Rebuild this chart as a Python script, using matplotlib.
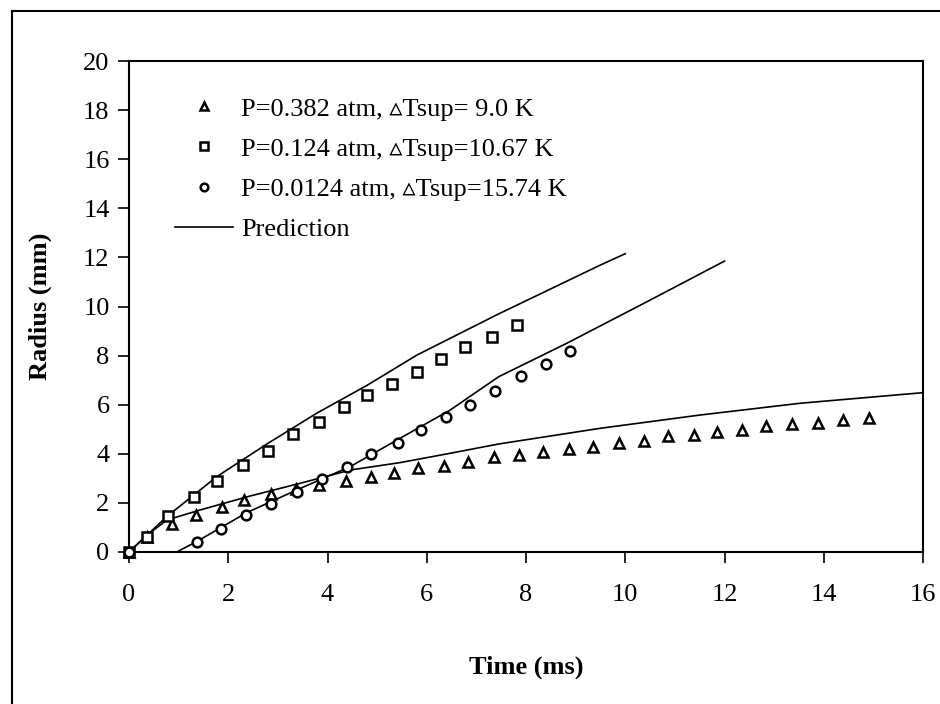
import matplotlib
matplotlib.use("Agg")
import matplotlib.pyplot as plt
from matplotlib.lines import Line2D

plt.rcParams["font.family"] = ["Liberation Serif", "DejaVu Serif"]

# measured bubble radius (mm) vs time (ms)
t_tri = [0, 0.36, 0.86, 1.36, 1.87, 2.32, 2.86, 3.37, 3.82, 4.37, 4.88, 5.33, 5.83,
         6.34, 6.83, 7.35, 7.85, 8.34, 8.86, 9.36, 9.87, 10.37, 10.87, 11.38, 11.85,
         12.35, 12.84, 13.37, 13.88, 14.39, 14.91]
r_tri = [0, 0.62, 1.14, 1.49, 1.85, 2.12, 2.35, 2.55, 2.73, 2.91, 3.07, 3.23, 3.42,
         3.50, 3.67, 3.86, 3.95, 4.09, 4.18, 4.29, 4.45, 4.53, 4.72, 4.78, 4.88,
         4.97, 5.13, 5.20, 5.27, 5.38, 5.45]

t_sq = [0, 0.36, 0.78, 1.30, 1.77, 2.29, 2.80, 3.30, 3.82, 4.33, 4.79, 5.30, 5.80,
        6.29, 6.77, 7.31, 7.82]
r_sq = [0, 0.62, 1.47, 2.23, 2.88, 3.53, 4.13, 4.81, 5.31, 5.89, 6.41, 6.83, 7.33,
        7.85, 8.35, 8.76, 9.25]

t_circ = [0, 1.38, 1.85, 2.35, 2.86, 3.38, 3.88, 4.39, 4.87, 5.42, 5.88, 6.39, 6.88,
          7.38, 7.90, 8.40, 8.89]
r_circ = [0, 0.39, 0.92, 1.51, 1.94, 2.46, 2.96, 3.45, 3.98, 4.45, 4.97, 5.49, 5.99,
          6.57, 7.17, 7.67, 8.17]

# prediction curves
pt_tri = [0, 0.36, 0.76, 1.43, 2.44, 3.45, 4.46, 5.46, 6.47, 7.45, 9.50, 11.51, 13.53, 16.0]
pr_tri = [0, 0.68, 1.30, 1.71, 2.28, 2.80, 3.34, 3.64, 4.02, 4.40, 5.04, 5.58, 6.06, 6.49]

pt_sq = [0, 0.76, 1.77, 2.78, 3.78, 4.79, 5.80, 7.44, 9.50, 10.0]
pr_sq = [0, 1.44, 3.07, 4.40, 5.65, 6.78, 8.02, 9.69, 11.69, 12.15]

pt_circ = [0, 0.96, 1.36, 2.37, 3.45, 4.46, 5.46, 6.47, 7.45, 8.82, 10.5, 12.0]
pr_circ = [0, 0.0, 0.42, 1.60, 2.59, 3.48, 4.63, 5.78, 7.14, 8.50, 10.26, 11.85]

labels = ["P=0.382 atm, \u25b5Tsup= 9.0 K",
          "P=0.124 atm, \u25b5Tsup=10.67 K",
          "P=0.0124 atm, \u25b5Tsup=15.74 K",
          "Prediction"]

fig = plt.figure(figsize=(9.4, 7.04), dpi=100)
ax = fig.add_axes([129 / 940, 152 / 704, 794 / 940, 491 / 704])

mk = dict(linestyle="none", markerfacecolor="white", markeredgecolor="black",
          markeredgewidth=1.8, markersize=7, clip_on=False, zorder=3)
ax.plot(pt_tri, pr_tri, color="black", lw=1.2)
ax.plot(pt_sq, pr_sq, color="black", lw=1.2)
ax.plot(pt_circ, pr_circ, color="black", lw=1.2)
ax.plot(t_tri, r_tri, marker="^", **mk)
ax.plot(t_sq, r_sq, marker="s", **mk)
ax.plot(t_circ, r_circ, marker="o", **mk)

ax.set_xlim(0, 16)
ax.set_ylim(0, 20)
ax.set_xticks(range(0, 17, 2))
ax.set_yticks(range(0, 21, 2))
ax.tick_params(direction="out", length=8, width=1.2, labelsize=19)
ax.tick_params(axis="x", pad=15)
ax.tick_params(axis="y", pad=6)
for s in ax.spines.values():
    s.set_linewidth(1.5)

ax.set_xlabel("Time (ms)", fontsize=19, fontweight="bold", labelpad=36)
ax.set_ylabel("Radius (mm)", fontsize=19, fontweight="bold", labelpad=22)

lmk = dict(linestyle="none", markerfacecolor="white", markeredgecolor="black",
           markeredgewidth=1.8, markersize=5.5)
handles = [Line2D([], [], marker="^", **lmk),
           Line2D([], [], marker="s", **lmk),
           Line2D([], [], marker="o", **lmk),
           Line2D([], [], color="black", lw=1.2)]
ax.legend(handles, labels, loc="upper left", bbox_to_anchor=(0.045, 0.948),
          frameon=False, fontsize=19, handlelength=2.2, handletextpad=0.3,
          labelspacing=0.63, borderaxespad=0)

# outer frame of the original figure
fig.add_artist(Line2D([12 / 940, 12 / 940], [0, 1 - 11 / 704], color="black", lw=1.5))
fig.add_artist(Line2D([12 / 940, 1], [1 - 11 / 704, 1 - 11 / 704], color="black", lw=1.5))

fig.savefig("out.png", dpi=100)
